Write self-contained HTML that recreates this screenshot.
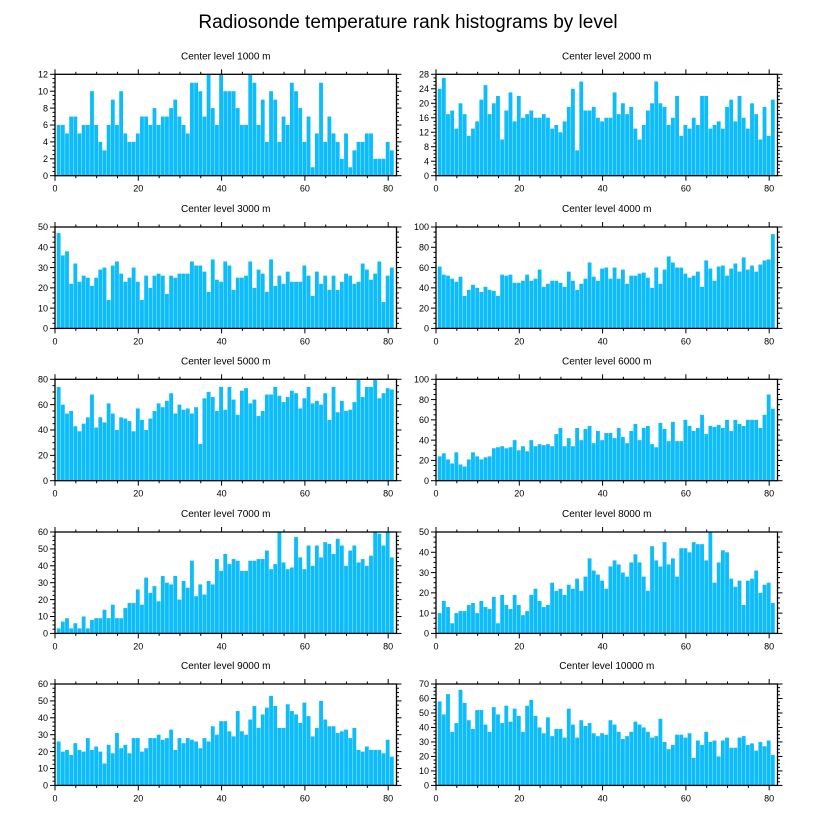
<!DOCTYPE html>
<html><head><meta charset="utf-8">
<style>
html,body{margin:0;padding:0;background:#fff;}
svg text{font-family:"Liberation Sans",sans-serif;fill:#000;}
</style></head>
<body>
<svg id="chart" width="816" height="824" viewBox="0 0 816 824" xmlns="http://www.w3.org/2000/svg">
<text x="408" y="28" font-size="19" text-anchor="middle">Radiosonde temperature rank histograms by level</text>
</svg>
<script>
const levelLabels = ["Center level 1000 m","Center level 2000 m","Center level 3000 m","Center level 4000 m","Center level 5000 m","Center level 6000 m","Center level 7000 m","Center level 8000 m","Center level 9000 m","Center level 10000 m"];
const yMax = [12,28,50,100,80,100,60,50,60,70];
const yStep = [2,4,10,20,20,20,10,10,10,10];
const xTicks = [0,20,40,60,80];
const counts1000 = [6,6,5,7,7,5,6,6,10,6,4,3,6,9,6,10,5,4,4,5,7,7,6,8,6,7,7,8,9,7,6,5,11,11,10,7,12,8,6,12,10,10,10,8,6,6,12,11,6,9,4,10,9,4,7,6,11,10,8,4,7,1,5,11,4,7,5,4,2,5,1,3,4,4,5,5,2,2,2,4,3];
const counts2000 = [24,27,17,18,13,20,17,11,13,15,21,25,17,20,22,10,18,23,15,22,16,17,18,16,16,17,16,13,14,12,15,19,24,7,26,18,18,19,16,15,16,16,23,17,20,17,19,13,10,14,18,20,26,20,19,14,16,22,11,14,13,16,14,22,22,13,14,15,13,19,21,15,22,16,13,20,17,10,19,11,21];
const counts3000 = [47,36,38,22,32,23,26,25,21,25,29,30,14,31,33,27,23,25,30,23,14,26,20,26,27,26,17,26,25,27,27,27,33,31,31,28,18,34,24,23,33,31,19,25,25,26,33,20,29,27,18,34,21,26,22,28,23,23,23,31,26,16,28,22,26,19,26,19,23,27,26,22,23,32,29,24,27,33,13,26,30];
const counts4000 = [61,53,52,49,46,51,32,38,43,40,36,41,38,37,32,53,52,53,45,45,47,53,47,49,58,41,44,47,47,45,41,56,47,38,44,49,65,51,47,59,60,49,60,49,58,44,52,52,54,55,50,40,60,44,58,71,65,60,60,54,50,52,56,41,67,59,47,61,62,52,59,64,56,70,58,62,56,63,67,68,93];
const counts5000 = [74,60,53,55,43,39,45,50,68,42,50,46,61,53,40,50,49,47,39,57,48,40,49,55,61,58,63,69,53,60,56,57,53,58,29,65,70,66,55,74,56,74,64,52,71,73,61,64,51,55,68,68,74,67,62,66,71,69,57,65,74,61,63,60,69,48,74,54,63,55,56,62,80,66,74,74,80,65,69,73,72];
const counts6000 = [24,27,21,17,28,16,14,21,28,24,21,23,24,32,33,34,32,33,40,30,34,29,40,34,36,35,36,34,46,52,34,42,34,52,40,51,54,37,49,40,47,47,42,52,43,37,49,56,40,52,54,36,33,57,51,39,58,39,39,60,54,49,52,65,46,54,53,55,52,60,49,60,56,54,60,60,60,52,65,85,71,63].slice(0,81);
const counts7000 = [3,7,9,3,6,3,10,3,8,9,9,14,9,17,9,9,15,18,18,26,17,33,24,28,19,34,30,29,34,20,31,27,43,22,29,23,31,29,44,37,47,41,44,43,37,37,43,43,44,44,49,38,41,60,42,38,39,57,45,38,52,40,52,45,54,53,47,56,52,40,49,52,42,44,40,46,60,59,52,60,45];
const counts8000 = [10,16,13,5,10,11,11,14,15,10,16,13,12,18,5,19,14,12,19,14,9,11,19,22,16,13,14,25,21,22,19,24,22,27,21,28,37,31,29,26,22,33,36,34,30,28,35,39,35,28,21,43,36,33,45,34,37,28,42,42,40,45,44,44,36,50,25,35,41,40,27,23,26,14,26,27,31,20,24,25,15];
const counts9000 = [26,20,21,18,25,21,20,28,21,23,20,13,24,19,31,22,24,19,28,28,20,22,28,28,30,27,28,33,21,28,25,28,27,26,22,28,26,35,30,38,38,32,29,44,32,30,39,47,34,42,46,53,47,34,34,48,44,42,37,49,41,29,34,50,39,35,35,31,32,33,28,34,21,20,23,21,21,21,19,27,17];
const counts10000 = [58,49,63,37,43,66,57,45,39,52,52,42,37,54,49,43,55,44,53,48,37,55,59,48,40,36,47,34,39,39,33,53,42,33,45,41,43,36,34,36,35,45,42,37,32,34,37,44,42,40,37,33,34,46,30,25,28,35,35,33,36,19,31,28,37,30,31,20,31,33,26,26,33,34,28,29,24,30,27,31,21];
const allCounts = [counts1000,counts2000,counts3000,counts4000,counts5000,counts6000,counts7000,counts8000,counts9000,counts10000];

const NS = "http://www.w3.org/2000/svg";
const svg = document.getElementById('chart');
function mk(tag, attrs, parent){const e=document.createElementNS(NS,tag);for(const k in attrs)e.setAttribute(k,attrs[k]);(parent||svg).appendChild(e);return e;}

const colX = [55, 436];
const plotW = 341.5;
const rowY = [74.3, 227, 379.3, 532, 684];
const plotH = 101.4;
const xMin = 0, xMax = 82;

levelLabels.forEach((label, p) => {
  const left = colX[p % 2], top = rowY[Math.floor(p / 2)];
  const data = allCounts[p];
  const xs = v => left + (v - xMin) / (xMax - xMin) * plotW;
  const ys = v => top + plotH - v / yMax[p] * plotH;
  const g = mk('g', {});
  
  
  const t = mk('text', {x: left + plotW/2, y: top - 15, 'font-size': 10, 'text-anchor': 'middle'}, g);
  t.textContent = label;
  
  
  // bars
  data.forEach((v, i) => {
    const x0 = xs(i + 0.42), x1 = xs(i + 1.34);
    const r = mk('rect', {x: x0, y: ys(v), width: x1 - x0, height: ys(0) - ys(v), fill: '#0DBDFB'}, g);
    
    
  });
  // frame
  const f = mk('rect', {x: left, y: top, width: plotW, height: plotH, fill: 'none', stroke: '#000', 'stroke-width': 1.3}, g);
  
  
  // x ticks
  for (let v = 0; v <= xMax; v += 5) {
    const major = v % 20 === 0;
    const L = major ? 5 : 2.5;
    const x = xs(v);
    mk('line', {x1: x, x2: x, y1: top + plotH, y2: top + plotH + L, stroke: '#000', 'stroke-width': 1}, g);
    mk('line', {x1: x, x2: x, y1: top, y2: top - L, stroke: '#000', 'stroke-width': 1}, g);
  }
  xTicks.forEach(v => {
    const tl = mk('text', {x: xs(v), y: top + plotH + 16, 'font-size': 9, 'text-anchor': 'middle'}, g);
    tl.textContent = v;
    
    
  });
  // y ticks
  const minor = yStep[p] / 4;
  for (let v = 0; v <= yMax[p] + 1e-9; v += minor) {
    const isMajor = Math.abs(v / yStep[p] - Math.round(v / yStep[p])) < 1e-6;
    const L = isMajor ? 5 : 2.5;
    const y = ys(v);
    mk('line', {x1: left, x2: left - L, y1: y, y2: y, stroke: '#000', 'stroke-width': 1}, g);
    mk('line', {x1: left + plotW, x2: left + plotW + L, y1: y, y2: y, stroke: '#000', 'stroke-width': 1}, g);
    if (isMajor) {
      const yl = mk('text', {x: left - 7, y: y + 3.2, 'font-size': 9, 'text-anchor': 'end'}, g);
      yl.textContent = Math.round(v);
      
      
    }
  }
});
</script>
</body></html>
